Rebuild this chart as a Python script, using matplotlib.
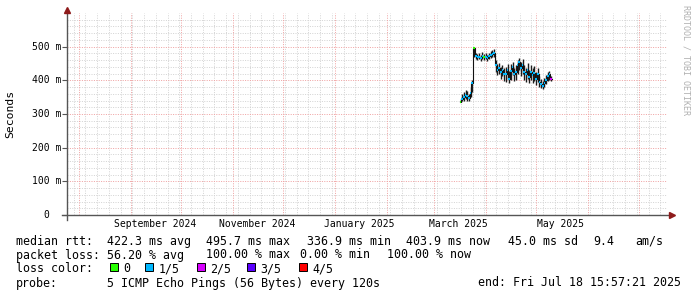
import numpy as np
import pandas as pd
import matplotlib
matplotlib.use('Agg')
import matplotlib.pyplot as plt
from matplotlib.patches import Rectangle
from matplotlib.transforms import blended_transform_factory

W, H = 697, 297

# median rtt per day in ms, smoke range (min / max) and loss level (n of 5)
first_day = '2025-03-17'
median_ms = [337, 344, 350, 356, 352, 348, 362, 392, 495, 472,
             468, 470, 466, 472, 468, 470, 465, 471, 474, 478,
             482, 445, 432, 438, 425, 430, 420, 418, 430, 405,
             428, 440, 418, 425, 445, 455, 438, 446, 425, 418,
             432, 410, 426, 415, 422, 405, 418, 395, 388, 382,
             392, 400, 412, 418, 404]
smoke_lo = [335, 338, 340, 345, 340, 338, 350, 365, 470, 462,
            460, 462, 458, 464, 460, 462, 456, 463, 466, 470,
            470, 425, 415, 420, 405, 412, 398, 395, 405, 392,
            400, 415, 398, 402, 420, 430, 412, 420, 400, 395,
            405, 392, 400, 392, 398, 385, 395, 380, 378, 375,
            380, 388, 398, 400, 398]
smoke_hi = [345, 358, 365, 372, 368, 360, 380, 400, 496, 482,
            478, 480, 476, 484, 478, 480, 474, 482, 486, 490,
            492, 460, 448, 452, 440, 446, 438, 440, 450, 428,
            448, 455, 438, 445, 460, 465, 455, 462, 445, 438,
            452, 432, 446, 436, 442, 425, 438, 412, 405, 398,
            408, 415, 425, 428, 412]
loss = [0, 1, 1, 1, 1, 1, 1, 1, 0, 1,
        1, 1, 1, 1, 0, 1, 1, 1, 1, 1,
        1, 1, 1, 1, 1, 1, 1, 1, 1, 1,
        1, 1, 1, 1, 1, 1, 1, 1, 1, 1,
        1, 1, 1, 1, 1, 1, 1, 1, 1, 1,
        1, 1, 1, 1, 2]

loss_colors = ['#26ff00', '#00b8ff', '#d700ff', '#5a00ff', '#ff0000']
loss_labels = ['0', '1/5', '2/5', '3/5', '4/5']

end_time = pd.Timestamp('2025-07-18 15:57:21')
start_time = end_time - pd.Timedelta(days=358)

y_ticks = [0, 100, 200, 300, 400, 500]
y_ticklabels = ['0', '100 m', '200 m', '300 m', '400 m', '500 m']
x_label_dates = ['2024-09-16', '2024-11-16', '2025-01-16', '2025-03-16', '2025-05-16']
x_ticklabels = ['September 2024', 'November 2024', 'January 2025', 'March 2025', 'May 2025']

plt.rcParams['font.family'] = 'DejaVu Sans Mono'
FS = 8.4      # legend font
AFS = 7.05    # axis font
MINOR = '#d4d4d4'
MAJOR = '#f0a4a4'
AXIS = '#555555'
ARROW = '#8e1b1b'


def px(x, y):
    return x / W, 1 - y / H


fig = plt.figure(figsize=(W / 100, H / 100), dpi=100)
fig.patch.set_facecolor('white')
ax = fig.add_axes([67 / W, (H - 215) / H, 600 / W, 202 / H])
ax.set_xlim(start_time, end_time)
ax.set_ylim(0, 600)
for s in ax.spines.values():
    s.set_visible(False)

# grid
gkw = dict(lw=0.72, ls=(0, (1, 1.4)))
for v in np.arange(20, 600, 20):
    if v % 100:
        ax.axhline(v, color=MINOR, zorder=1, **gkw)
for d in pd.date_range(start_time, end_time, freq='W-MON'):
    ax.axvline(d, color=MINOR, zorder=1, **gkw)
for v in y_ticks[1:]:
    ax.axhline(v, color=MAJOR, zorder=2, **gkw)
for d in pd.date_range(start_time, end_time, freq='MS'):
    ax.axvline(d, color=MAJOR, zorder=2, **gkw)

# smoke + median
days = pd.date_range(first_day, periods=len(median_ms), freq='D')
one = pd.Timedelta(days=1)
ax.vlines(days + one / 2, smoke_lo, smoke_hi, color='#1c1c1c', lw=1.0, zorder=3)
ax.step(list(days) + [days[-1] + one], median_ms + [median_ms[-1]],
        where='post', color='#111111', lw=0.8, zorder=4)
for d, m, l in zip(days, median_ms, loss):
    ax.hlines(m, d, d + one, color=loss_colors[l], lw=1.5, zorder=5)

# axes lines with arrows
ax.plot([-5 / 600, 1.003], [0, 0], transform=ax.transAxes, color=AXIS,
        lw=1.0, clip_on=False, zorder=6)
ax.plot([0, 0], [-5 / 202, 1.01], transform=ax.transAxes, color=AXIS,
        lw=1.0, clip_on=False, zorder=6)
ax.plot([1.008], [0], transform=ax.transAxes, marker='>', ms=4.5, color=ARROW,
        clip_on=False, zorder=7)
ax.plot([0], [1.015], transform=ax.transAxes, marker='^', ms=4.5, color=ARROW,
        clip_on=False, zorder=7)

# ticks and labels
ax.set_yticks(y_ticks)
ax.set_yticklabels([])
ax.tick_params(axis='y', length=3.5, width=0.8, color=AXIS, direction='out')
tr = blended_transform_factory(ax.transAxes, ax.transData)
for v, lab in zip(y_ticks, y_ticklabels):
    xr = -6 / 600 if v else -18 / 600
    ax.text(xr, v, lab, transform=tr, ha='right', va='center', fontsize=AFS)
ax.set_xticks(pd.to_datetime(x_label_dates))
ax.set_xticklabels(x_ticklabels, fontsize=AFS)
ax.tick_params(axis='x', length=0, pad=3)

fig.text(*px(10, 114), 'Seconds', rotation=90, ha='center', va='center', fontsize=8.2)
fig.text(*px(686, 60), 'RRDTOOL / TOBI OETIKER', rotation=270, ha='center',
         va='center', fontsize=6, color='#b0b0b0')

# legend text
rows = [
    (241.5, [(16, 'median rtt:'), (107, '422.3 ms avg'), (206.5, '495.7 ms max'),
             (307, '336.9 ms min'), (406.5, '403.9 ms now'), (508, '45.0 ms sd'),
             (593, '9.4'), (635, 'am/s')]),
    (255, [(16, 'packet loss:'), (107, '56.20 % avg'), (206.5, '100.00 % max'),
           (300, '0.00 % min'), (386.5, '100.00 % now')]),
    (269, [(16, 'loss color:')]),
    (283, [(16, 'probe:'), (107, '5 ICMP Echo Pings (56 Bytes) every 120s'),
           (478, 'end: Fri Jul 18 15:57:21 2025')]),
]
for y, items in rows:
    for x, s in items:
        fig.text(*px(x, y), s, ha='left', va='center', fontsize=FS)

sq_x = [109.5, 145, 197, 247, 298.5]
for x, c, lab in zip(sq_x, loss_colors, loss_labels):
    fx, fy = px(x, 270.5)
    fig.add_artist(Rectangle((fx, fy), 8 / W, 8 / H, transform=fig.transFigure,
                             facecolor=c, edgecolor='black', lw=0.7))
    fig.text(*px(x + 13.5, 268.5), lab, ha='left', va='center', fontsize=FS)

fig.savefig('out.png', dpi=100, facecolor='white')
